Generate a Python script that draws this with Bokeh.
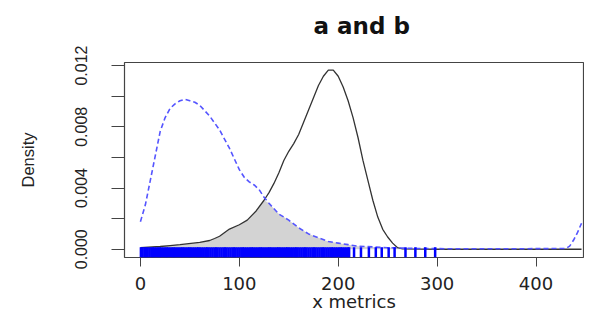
import numpy as np
from bokeh.plotting import figure
from bokeh.models import Range1d, FixedTicker, PrintfTickFormatter, Title
from bokeh.embed import file_html
from bokeh.resources import INLINE

# ---- data ----
a_x = [0, 20, 30, 40, 60, 70, 75, 80, 90, 100, 108, 117, 125, 130, 135, 140, 145, 150,
       155, 160, 165, 170, 175, 180, 185, 190, 195, 200, 205, 210, 215, 220, 225,
       230, 235, 240, 245, 250, 255, 260, 265, 300, 400, 446]
a_density = [0.0001, 0.00018, 0.00024, 0.0003, 0.00045, 0.00057, 0.0007, 0.00085,
             0.00132, 0.0016, 0.0019, 0.0025, 0.0032, 0.0037, 0.0043, 0.005, 0.0058,
             0.0064, 0.0069, 0.0075, 0.0083, 0.0091, 0.0099, 0.0107, 0.0113, 0.0117,
             0.0117, 0.0113, 0.0106, 0.0097, 0.0086, 0.0073, 0.0058, 0.0045, 0.0032,
             0.0021, 0.0013, 0.0008, 0.0004, 0.0001, 0.00003, 0.0, 0.0, 0.0]

b_x = [0, 5, 10, 15, 20, 25, 30, 35, 40, 45, 50, 55, 60, 70, 80, 90, 95, 100, 105,
       110, 115, 120, 125, 130, 140, 150, 160, 170, 180, 190, 200, 210, 220, 235,
       250, 280, 320, 380, 430, 434, 438, 442, 446]
b_density = [0.0018, 0.0029, 0.0045, 0.0061, 0.0077, 0.0086, 0.0092, 0.0095, 0.0097,
             0.0098, 0.0097, 0.0096, 0.0094, 0.0087, 0.0078, 0.0066, 0.0059, 0.0052,
             0.0047, 0.0044, 0.0042, 0.0039, 0.0034, 0.003, 0.0023, 0.0019, 0.0014,
             0.001, 0.00075, 0.0005, 0.0004, 0.0003, 0.0002, 0.00015, 0.0001, 0.00005,
             0.00003, 0.00003, 0.00005, 0.0002, 0.0006, 0.0011, 0.0017]

b_rug = [0.5, 2, 4, 5.5, 7, 9, 11, 12.5, 14, 16, 18, 19.5, 21, 23, 25, 26.5, 28, 30,
         32, 33.5, 35, 37, 39, 41, 42.5, 44, 46, 48, 49.5, 51, 53, 55, 57, 58.5, 60,
         62, 64, 66, 67.5, 69, 71, 73, 75, 76.5, 78, 80, 82, 84, 85.5, 87, 89, 91,
         93, 94.5, 96, 98, 100, 102, 103.5, 105, 107, 109, 111, 112.5, 114, 116, 118,
         120, 121.5, 123, 125, 127, 129, 130.5, 132, 134, 136, 138, 139.5, 141, 143,
         145, 147, 148.5, 150, 152, 154, 156, 157.5, 159, 161, 163, 165, 166.5, 168,
         170, 172, 174, 175.5, 177, 179, 181, 183, 184.5, 186, 188, 190, 192, 193.5,
         195, 197, 199, 201, 202.5, 204, 206, 208, 210, 211,
         216, 223, 231, 238, 244, 251, 257, 268, 278, 288, 298]

x_ticks = [0, 100, 200, 300, 400]
y_ticks = [0.0, 0.004, 0.008, 0.012]
y_minor_ticks = [0.002, 0.006, 0.010]
title_text = "a and b"
x_label = "x metrics"
y_label = "Density"

# ---- figure ----
x_lo, x_hi = -16.1, 448.0
y_lo, y_hi = -0.00054, 0.0122

p = figure(width=584, height=316, output_backend="svg", toolbar_location=None,
           x_range=Range1d(x_lo, x_hi), y_range=Range1d(y_lo, y_hi),
           min_border_left=124, min_border_right=1, min_border_top=62,
           min_border_bottom=59)
p.background_fill_color = "white"
p.border_fill_color = "white"
p.outline_line_color = "#444444"
p.outline_line_width = 1.2
p.xgrid.visible = False
p.ygrid.visible = False

# overlap area (min of both densities)
grid = np.union1d(np.array(a_x, float), np.array(b_x, float))
ya = np.interp(grid, a_x, a_density)
yb = np.interp(grid, b_x, b_density)
p.varea(x=grid, y1=np.zeros_like(grid), y2=np.minimum(ya, yb), fill_color="#d3d3d3")

p.line(a_x, a_density, line_color="#333333", line_width=1.3)
p.line(b_x, b_density, line_color="#5555ff", line_width=1.6, line_dash="5 3")

rug_top = y_lo + 0.053 * (y_hi - y_lo)
p.segment(x0=b_rug, y0=[y_lo] * len(b_rug), x1=b_rug, y1=[rug_top] * len(b_rug),
          line_color="#0000ff", line_width=2.5)

# spacer panel between frame and title
p.add_layout(Title(text=" ", text_font_size="16px", standoff=0), "above")

# title
p.title.text = title_text
p.title.align = "left"
p.title.offset = 189
p.title.text_font = "DejaVu Sans"
p.title.text_font_style = "bold"
p.title.text_font_size = "23px"
p.title.text_color = "#111111"

# x axis
xa = p.xaxis[0]
xa.ticker = FixedTicker(ticks=x_ticks)
xa.axis_line_color = None
xa.major_tick_line_color = "#444444"
xa.major_tick_out = 9
xa.major_tick_in = 0
xa.minor_tick_line_color = None
xa.major_label_text_font = "DejaVu Sans"
xa.major_label_text_font_size = "18px"
xa.major_label_text_color = "#222222"
xa.major_label_standoff = 10
xa.axis_label = x_label
xa.axis_label_text_font = "DejaVu Sans"
xa.axis_label_text_font_style = "normal"
xa.axis_label_text_font_size = "18px"
xa.axis_label_text_color = "#222222"
xa.axis_label_standoff = -2

# y axis
ya_ax = p.yaxis[0]
ya_ax.ticker = FixedTicker(ticks=y_ticks, minor_ticks=y_minor_ticks)
ya_ax.formatter = PrintfTickFormatter(format="%.3f")
ya_ax.axis_line_color = None
ya_ax.major_tick_line_color = "#444444"
ya_ax.minor_tick_line_color = "#444444"
ya_ax.major_tick_out = 13
ya_ax.minor_tick_out = 13
ya_ax.major_tick_in = 0
ya_ax.minor_tick_in = 0
ya_ax.major_label_orientation = "vertical"
ya_ax.major_label_text_font = "Liberation Sans"
ya_ax.major_label_text_font_size = "16px"
ya_ax.major_label_text_color = "#222222"
ya_ax.major_label_standoff = 24
ya_ax.axis_label = y_label
ya_ax.axis_label_text_font = "Liberation Sans"
ya_ax.axis_label_text_font_style = "normal"
ya_ax.axis_label_text_font_size = "16.5px"
ya_ax.axis_label_text_color = "#222222"
ya_ax.axis_label_standoff = 36

open("out.html", "w").write(file_html(p, INLINE))
